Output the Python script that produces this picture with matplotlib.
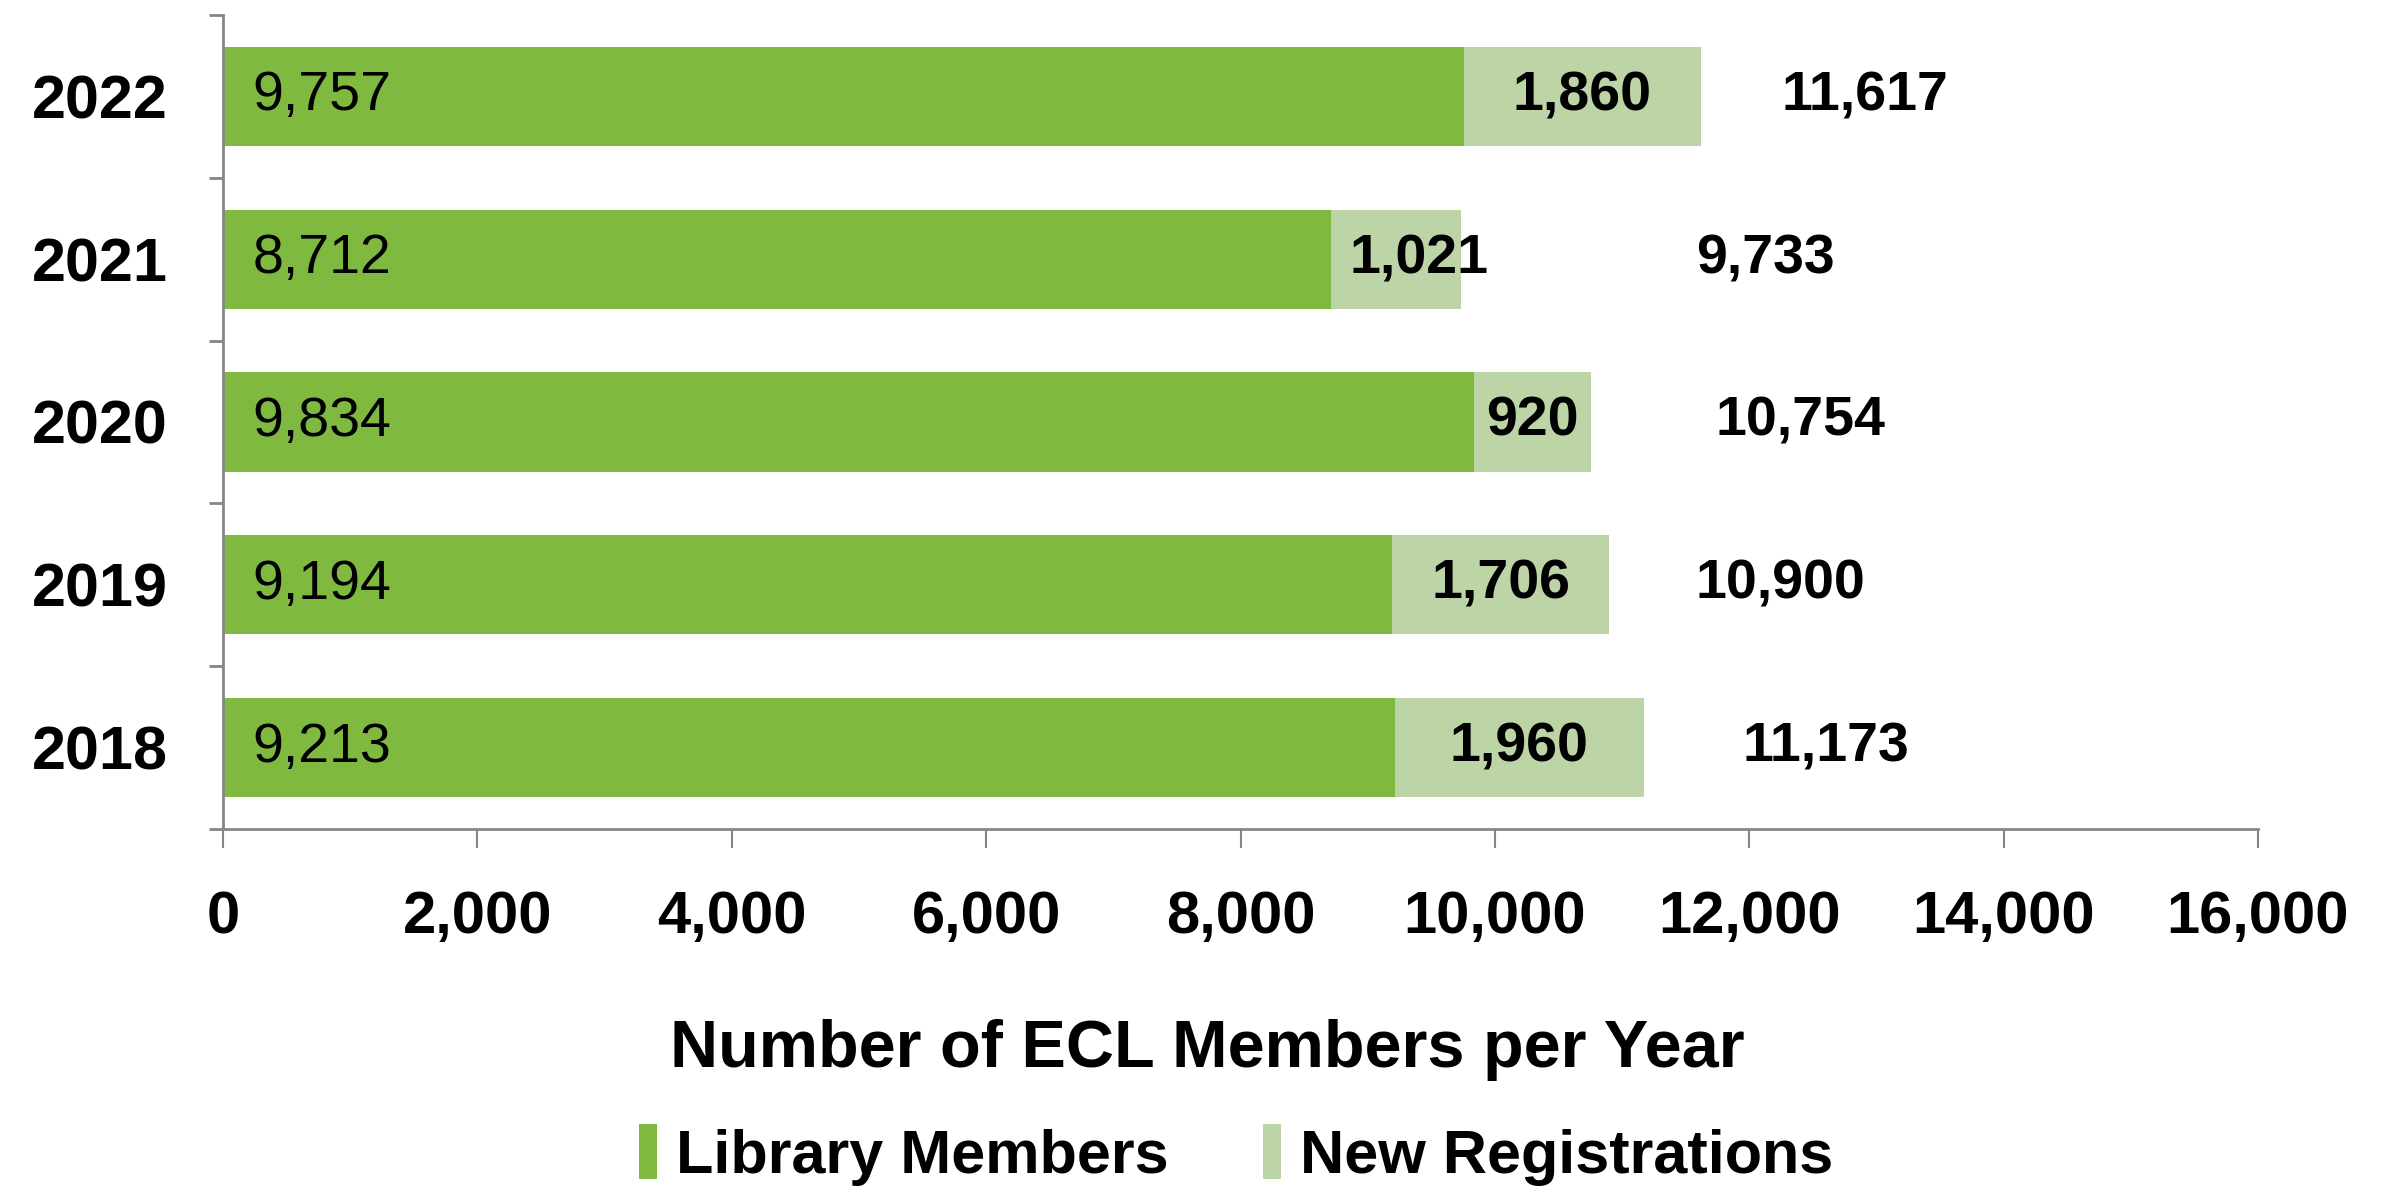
import matplotlib
matplotlib.use("Agg")
import matplotlib.pyplot as plt
from matplotlib.ticker import FuncFormatter, FixedLocator
from matplotlib.patches import Patch

plt.rcParams['font.family'] = ['Liberation Sans', 'DejaVu Sans']

# ---- data ----
years = ["2018", "2019", "2020", "2021", "2022"]
library_members = [9213, 9194, 9834, 8712, 9757]
new_registrations = [1960, 1706, 920, 1021, 1860]
totals = [11173, 10900, 10754, 9733, 11617]
series_names = ["Library Members", "New Registrations"]
x_ticks = [0, 2000, 4000, 6000, 8000, 10000, 12000, 14000, 16000]

# ---- layout / style ----
dark_green = "#80B940"
light_green = "#BCD4A6"
axis_gray = "#868686"
total_label_offset = [1433, 1346, 1648, 2393, 1289]  # data units right of bar end
new_label_shift = [0, 0, 0, 180, 0]  # data units shift of the inner bold labels

W, H = 2393, 1191
fig = plt.figure(figsize=(W / 100, H / 100), dpi=100)
ax = fig.add_axes([223 / W, 1 - 829 / H, (2258 - 223) / W, (829 - 15) / H])

ypos = list(range(len(years)))
bar_h = 0.61
ax.barh(ypos, library_members, height=bar_h, color=dark_green, edgecolor='none')
ax.barh(ypos, new_registrations, left=library_members, height=bar_h,
        color=light_green, edgecolor='none')

for i in ypos:
    ax.text(230, i, f"{library_members[i]:,}", ha='left', va='center',
            fontsize=40, color='black')
    ax.text(library_members[i] + new_registrations[i] / 2 + new_label_shift[i], i,
            f"{new_registrations[i]:,}",
            ha='center', va='center', fontsize=40, fontweight='bold', color='black')
    ax.text(totals[i] + total_label_offset[i], i, f"{totals[i]:,}",
            ha='center', va='center', fontsize=40, fontweight='bold', color='black')

ax.set_xlim(0, 16000)
ax.set_ylim(-0.5, len(years) - 0.5)
ax.set_xticks(x_ticks)
ax.xaxis.set_major_formatter(FuncFormatter(lambda v, p: f"{int(v):,}"))
ax.set_yticks(ypos)
ax.set_yticklabels(years)
ax.yaxis.set_minor_locator(FixedLocator([k - 0.5 for k in range(len(years) + 1)]))

for s in ['top', 'right']:
    ax.spines[s].set_visible(False)
for s in ['left', 'bottom']:
    ax.spines[s].set_color(axis_gray)
    ax.spines[s].set_linewidth(2)

ax.tick_params(axis='x', which='major', length=14, width=1.5, color=axis_gray,
               labelsize=43, pad=30)
ax.tick_params(axis='y', which='major', length=0, labelsize=44, pad=40)
ax.tick_params(axis='y', which='minor', length=10, width=2, color=axis_gray)
for lab in ax.get_xticklabels() + ax.get_yticklabels():
    lab.set_fontweight('bold')

fig.text(1207 / W, 1 - 1050 / H, "Number of ECL Members per Year", ha='center',
         va='center', fontsize=48, fontweight='bold')

handles = [Patch(facecolor=dark_green, edgecolor='none'),
           Patch(facecolor=light_green, edgecolor='none')]
leg = fig.legend(handles, series_names, loc='center', bbox_to_anchor=(1236 / W, 1 - 1155 / H),
                 ncol=2, frameon=False, handlelength=0.3, handleheight=1.0,
                 handletextpad=0.3, columnspacing=1.55,
                 prop={'size': 44, 'weight': 'bold'})

fig.savefig("out.png", dpi=100, facecolor='white')
